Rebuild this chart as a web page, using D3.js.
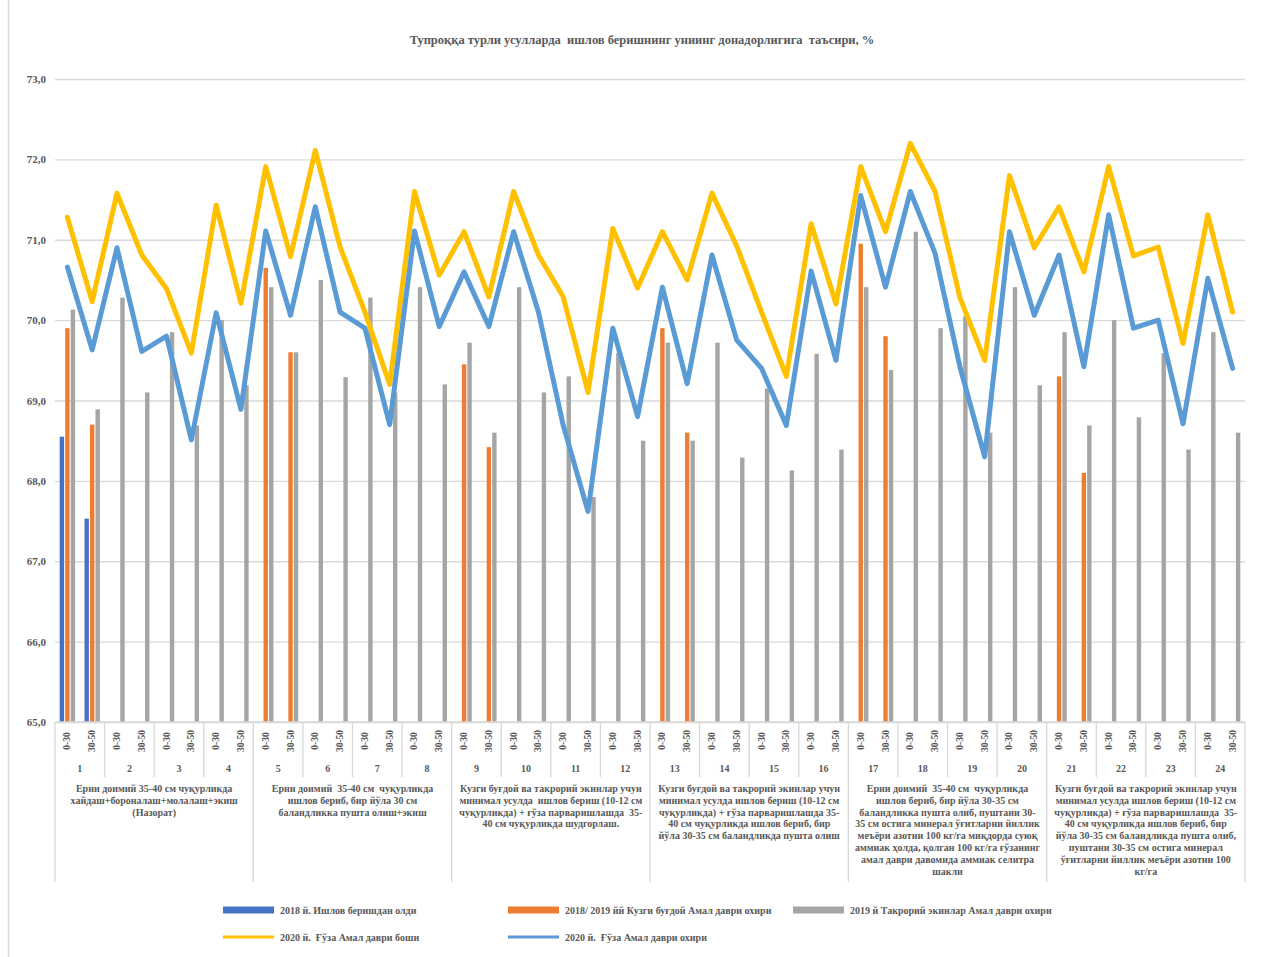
<!DOCTYPE html>
<html lang="uz">
<head>
<meta charset="UTF-8">
<title>Тупроққа турли усулларда ишлов бериш</title>
<script src="https://d3js.org/d3.v7.min.js"></script>
<style>
  body { margin: 0; background: #fff; }
  svg { display: block; font-family: "Liberation Serif", "Times New Roman", serif; }
  .lbl { fill: #595959; font-weight: bold; white-space: pre; }
  .grid line { stroke: #d9d9d9; stroke-width: 1.3px; }
  path.ser { fill: none; stroke-width: 5px; stroke-linejoin: round; stroke-linecap: round; }
</style>
</head>
<body>
<svg width="1263" height="957"></svg>
<script>
// ---- data ----
const depths = ["0-30", "30-50"];
const variants = d3.range(1, 25).map(String);
const groupTexts = [
  ["Ерни доимий 35-40 см чуқурликда", "хайдаш+бороналаш+молалаш+экиш", "(Назорат)"],
  ["Ерни доимий  35-40 см  чуқурликда", "ишлов бериб, бир йўла 30 см", "баландликка пушта олиш+экиш"],
  ["Кузги буғдой ва такрорий экинлар учун", "минимал усулда  ишлов бериш (10-12 см", "чуқурликда) + ғўза парваришлашда  35-", "40 см чуқурликда шудгорлаш."],
  ["Кузги буғдой ва такрорий экинлар учун", "минимал усулда ишлов бериш (10-12 см", "чуқурликда) + ғўза парваришлашда 35-", "40 см чуқурликда ишлов бериб, бир", "йўла 30-35 см баландликда пушта олиш"],
  ["Ерни доимий  35-40 см  чуқурликда", "ишлов бериб, бир йўла 30-35 см", "баландликка пушта олиб, пуштани 30-", "35 см остига минерал ўғитларни йиллик", "меъёри азотни 100 кг/га миқдорда суюқ", "аммиак ҳолда, қолган 100 кг/га ғўзанинг", "амал даври давомида аммиак селитра", "шакли"],
  ["Кузги буғдой ва такрорий экинлар учун", "минимал усулда ишлов бериш (10-12 см", "чуқурликда) + ғўза парваришлашда  35-", "40 см чуқурликда ишлов бериб, бир", "йўла 30-35 см баландликда пушта олиб,", "пуштани 30-35 см остига минерал", "ўғитларни йиллик меъёри азотни 100", "кг/га"]
];
const seriesNames = [
  "2018 й. Ишлов беришдан олди",
  "2018/ 2019 йй Кузги буғдой Амал даври охири",
  "2019 й Такрорий экинлар Амал даври охири",
  "2020 й.  Ғўза Амал даври боши",
  "2020 й.  Ғўза Амал даври охири"
];
const yTicks = [65, 66, 67, 68, 69, 70, 71, 72, 73];

const _ = null;
const before2018 = [68.55, 67.53, _, _, _, _, _, _, _, _, _, _, _, _, _, _,
  _, _, _, _, _, _, _, _, _, _, _, _, _, _, _, _,
  _, _, _, _, _, _, _, _, _, _, _, _, _, _, _, _];
const wheat2019 = [69.9, 68.7, _, _, _, _, _, _, 70.65, 69.6, _, _, _, _, _, _,
  69.45, 68.42, _, _, _, _, _, _, 69.9, 68.6, _, _, _, _, _, _,
  70.95, 69.8, _, _, _, _, _, _, 69.3, 68.1, _, _, _, _, _, _];
const crops2019 = [70.13, 68.89, 70.28, 69.1, 69.85, 68.69, 70.0, 69.19, 70.41, 69.6, 70.5, 69.29, 70.28, 69.1, 70.41, 69.2,
  69.72, 68.6, 70.41, 69.1, 69.3, 67.8, 69.59, 68.5, 69.72, 68.5, 69.72, 68.29, 69.15, 68.13, 69.58, 68.39,
  70.41, 69.38, 71.1, 69.9, 70.05, 68.6, 70.41, 69.19, 69.85, 68.69, 70.0, 68.79, 69.59, 68.39, 69.85, 68.6];
const cottonStart2020 = [71.28, 70.23, 71.58, 70.81, 70.39, 69.59, 71.43, 70.21, 71.91, 70.79, 72.11, 70.91, 70.1, 69.2, 71.6, 70.56,
  71.1, 70.29, 71.6, 70.81, 70.29, 69.1, 71.14, 70.4, 71.1, 70.5, 71.58, 70.92, 70.1, 69.3, 71.2, 70.2,
  71.91, 71.1, 72.2, 71.6, 70.28, 69.5, 71.8, 70.9, 71.41, 70.6, 71.91, 70.8, 70.91, 69.71, 71.31, 70.1];
const cottonEnd2020 = [70.66, 69.63, 70.9, 69.61, 69.8, 68.51, 70.09, 68.89, 71.11, 70.06, 71.41, 70.1, 69.9, 68.7, 71.11, 69.92,
  70.6, 69.92, 71.1, 70.1, 68.69, 67.62, 69.9, 68.8, 70.41, 69.21, 70.81, 69.75, 69.4, 68.69, 70.61, 69.5,
  71.55, 70.41, 71.6, 70.83, 69.42, 68.3, 71.1, 70.06, 70.81, 69.42, 71.31, 69.9, 70.0, 68.71, 70.52, 69.4];

const colors = ["#4472C4", "#ED7D31", "#A5A5A5", "#FFC000", "#5B9BD5"];

// categories: variant x depth
const cats = [];
variants.forEach(v => depths.forEach(d => cats.push(v + "|" + d)));

// ---- layout ----
const svg = d3.select("svg");
const plot = {left: 55, right: 1245, top: 79, bottom: 722};

const x = d3.scaleBand().domain(cats).range([plot.left, plot.right]).padding(0);
const y = d3.scaleLinear().domain([65, 73]).range([plot.bottom, plot.top]);
const barSeries = [0, 1, 2];
const bw = x.bandwidth();
const xInner = d3.scaleBand().domain(barSeries).range([bw / 2 - 7.7, bw / 2 + 7.7]).paddingInner(0.2);

// left border of chart area
svg.append("line").attr("x1", 8.5).attr("x2", 8.5).attr("y1", 0).attr("y2", 957)
  .attr("stroke", "#d9d9d9").attr("stroke-width", 1.5);

// title
svg.append("text").attr("class", "lbl").attr("x", 642).attr("y", 44)
  .attr("text-anchor", "middle").attr("font-size", 12.5)
  .text("Тупроққа турли усулларда  ишлов беришнинг униинг донадорлигига  таъсири, %");

// grid + y axis
const yAxis = svg.append("g").attr("class", "grid")
  .attr("transform", `translate(${plot.left},0)`)
  .call(d3.axisLeft(y).tickValues(yTicks).tickSize(-(plot.right - plot.left))
    .tickFormat(d => d3.format(".1f")(d).replace(".", ",")));
yAxis.select(".domain").remove();
yAxis.selectAll("text").attr("class", "lbl").attr("x", -9).attr("font-size", 11)
  .attr("font-family", "Liberation Serif, serif");

// bars
const barData = [before2018, wheat2019, crops2019];
barData.forEach((arr, s) => {
  svg.append("g").selectAll("rect")
    .data(arr.map((v, i) => ({v, c: cats[i]})).filter(d => d.v !== null))
    .join("rect")
    .attr("x", d => x(d.c) + xInner(s))
    .attr("width", xInner.bandwidth())
    .attr("y", d => y(d.v))
    .attr("height", d => y(65) - y(d.v))
    .attr("fill", colors[s]);
});

// lines
const lineGen = d3.line().x((d, i) => x(cats[i]) + bw / 2).y(d => y(d));
[cottonStart2020, cottonEnd2020].forEach((arr, k) => {
  svg.append("path").attr("class", "ser").attr("d", lineGen(arr))
    .attr("stroke", colors[3 + k]);
});

// multi-level category axis
const axG = svg.append("g");
axG.append("line").attr("x1", plot.left).attr("x2", plot.right)
  .attr("y1", plot.bottom).attr("y2", plot.bottom).attr("stroke", "#d9d9d9").attr("stroke-width", 1.3);

d3.range(0, 25).forEach(k => {
  const xx = plot.left + k * 2 * bw;
  axG.append("line").attr("x1", xx).attr("x2", xx)
    .attr("y1", plot.bottom).attr("y2", k % 4 === 0 ? 882 : 777)
    .attr("stroke", "#d9d9d9").attr("stroke-width", 1.3);
});

axG.selectAll("text.depth").data(cats).join("text")
  .attr("class", "lbl depth").attr("font-size", 9.5)
  .attr("text-anchor", "middle").attr("dominant-baseline", "central")
  .attr("transform", d => `translate(${x(d) + bw / 2},741) rotate(-90)`)
  .text(d => d.split("|")[1]);

axG.selectAll("text.var").data(variants).join("text")
  .attr("class", "lbl var").attr("font-size", 10).attr("text-anchor", "middle")
  .attr("x", (d, i) => plot.left + (i * 2 + 1) * bw).attr("y", 772)
  .text(d => d);

groupTexts.forEach((lines, g) => {
  const cx = plot.left + (g * 8 + 4) * bw;
  const t = axG.append("text").attr("class", "lbl").attr("font-size", 10)
    .attr("text-anchor", "middle").attr("x", cx).attr("y", 792);
  lines.forEach((ln, j) => {
    t.append("tspan").attr("x", cx).attr("dy", j === 0 ? 0 : 11.8).text(ln);
  });
});

// legend
const legendPos = [[223, 910], [508, 910], [793, 910], [223, 937], [508, 937]];
seriesNames.forEach((name, s) => {
  const [lx, ly] = legendPos[s];
  const g = svg.append("g").attr("transform", `translate(${lx},${ly})`);
  if (s < 3) {
    g.append("rect").attr("x", 0).attr("y", -3.5).attr("width", 51).attr("height", 7).attr("fill", colors[s]);
  } else {
    g.append("line").attr("x1", 0).attr("x2", 51).attr("y1", 0).attr("y2", 0)
      .attr("stroke", colors[s]).attr("stroke-width", 3);
  }
  g.append("text").attr("class", "lbl").attr("font-size", 10).attr("x", 57).attr("y", 3.5).text(name);
});
</script>
</body>
</html>
